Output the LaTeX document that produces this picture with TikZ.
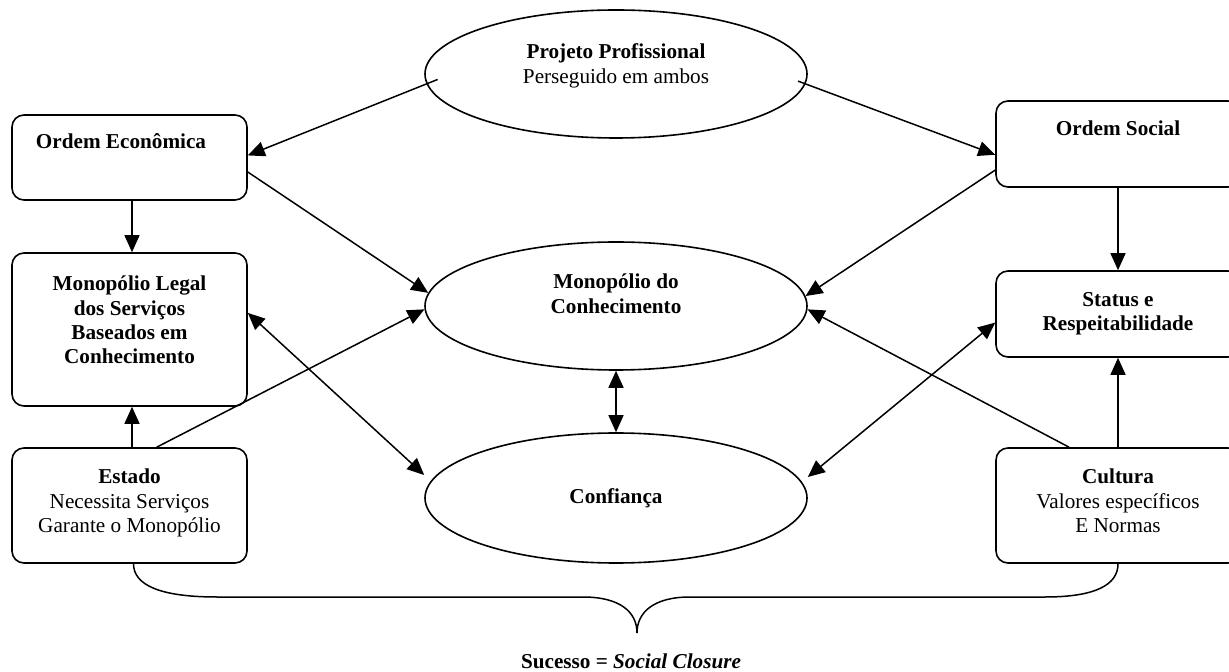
\documentclass[tikz,border=0pt]{standalone}
\usepackage{fontspec}
\setmainfont{Liberation Serif}
\usetikzlibrary{shapes.geometric,arrows.meta,calc}
\tikzset{
  box/.style={draw, line width=0.8pt, rounded corners=6pt, inner sep=0pt},
  ell/.style={draw, ellipse, line width=0.8pt, inner sep=0pt, minimum width=191pt},
  txt/.style={anchor=north, inner sep=0pt, align=center, font=\fontsize{10.6}{12.2}\selectfont},
  btxt/.style={txt, font=\fontsize{10.6}{12.2}\selectfont\bfseries},
  arr/.style={line width=0.75pt, -{Triangle[length=8.5pt,width=7.5pt]}},
  darr/.style={line width=0.75pt, {Triangle[length=8.5pt,width=7.5pt]}-{Triangle[length=8.5pt,width=7.5pt]}},
}
\begin{document}
\begin{tikzpicture}[x=0.5pt, y=-0.5pt]
\clip (0,0) rectangle (1229,672);
\fill[white] (0,0) rectangle (1229,672);

% ellipses
\node[ell, minimum height=64pt] (pp) at (616,74) {};
\node[ell, minimum height=64pt] (mc) at (616,306) {};
\node[ell, minimum height=65pt] (cf) at (616,498) {};

% boxes
\node[box, minimum width=117.5pt, minimum height=42.5pt] (oe) at (129.5,157.5) {};
\node[box, minimum width=117.5pt, minimum height=76.5pt] (ml) at (129.5,329.5) {};
\node[box, minimum width=117.5pt, minimum height=57.5pt] (es) at (129.5,505.5) {};
\node[box, minimum width=122pt, minimum height=43pt] (os) at (1118,144) {};
\node[box, minimum width=122pt, minimum height=43pt] (sr) at (1118,314) {};
\node[box, minimum width=122pt, minimum height=57.5pt] (cu) at (1118,505.5) {};

% texts
\node[txt] (tpp) at (616,43.5) {\textbf{Projeto Profissional}\\Perseguido em ambos};
\node[btxt] (tmc) at (616,273.5) {Monopólio do\\Conhecimento};
\node[btxt, anchor=base] (tcf) at (616,503) {Confiança};
\node[btxt] (toe) at (121,133.5) {Ordem Econômica};
\node[btxt] (tml) at (129.5,275.5) {Monopólio Legal\\dos Serviços\\Baseados em\\Conhecimento};
\node[txt] (tes) at (129.5,468.5) {\textbf{Estado}\\Necessita Serviços\\Garante o Monopólio};
\node[btxt] (tos) at (1118,120.5) {Ordem Social};
\node[btxt] (tsr) at (1118,292) {Status e\\Respeitabilidade};
\node[txt] (tcu) at (1118,468.5) {\textbf{Cultura}\\Valores específicos\\E Normas};
\node[btxt, anchor=base] (tsc) at (631,668) {Sucesso = \textit{Social Closure}};

% connectors
\draw[arr, shorten <=-6pt] (pp.183.6) -- (oe.1.2);
\draw[arr, shorten <=-4pt] (pp.-3.5) -- (os.185.2);
\draw[arr] (oe.-7) -- (mc.176.7);
\draw[arr] (es.65) -- (mc.181);
\draw[darr] (ml.8.5) -- ($(cf.west)+(0,-23)$);
\draw[arr] (os.192.9) -- (mc.3.3);
\draw[arr] (cu.130) -- (mc.-1);
\draw[darr] (sr.184) -- ($(cf.east)+(0,-21)$);
\draw[arr] ($(oe.south)+(2.5,0)$) -- ($(ml.north)+(2.5,0)$);
\draw[arr] ($(es.north)+(2.5,0)$) -- ($(ml.south)+(2.5,0)$);
\draw[arr] (os.south) -- (sr.north);
\draw[arr] (cu.north) -- (sr.south);
\draw[darr] (mc.south) -- (cf.north);

% brace
\coordinate (bl) at ($(es.south)+(4,0)$);
\coordinate (br) at (cu.south);
\coordinate (tip) at (637,633);
\draw[line width=0.75pt] (bl) .. controls (133.5,585) and (160,597) .. (217,597)
  -- (583,597) .. controls (620,597) and (637,612) .. (tip)
  .. controls (637,612) and (654,597) .. (690,597)
  -- (1045,597) .. controls (1095,597) and (1118,585) .. (br);
\end{tikzpicture}
\end{document}
